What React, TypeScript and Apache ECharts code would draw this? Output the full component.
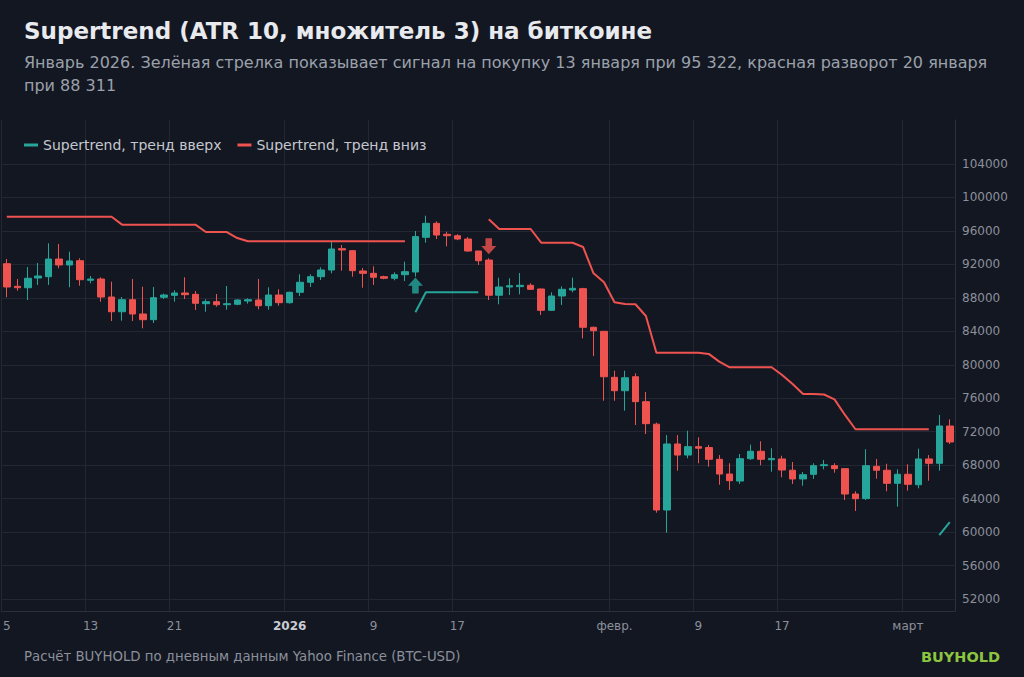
import { useRef, useEffect } from 'react';
import * as echarts from 'echarts';

const DATES = [
  '2025-12-05', '2025-12-06', '2025-12-07', '2025-12-08', '2025-12-09', '2025-12-10', '2025-12-11', '2025-12-12',
  '2025-12-13', '2025-12-14', '2025-12-15', '2025-12-16', '2025-12-17', '2025-12-18', '2025-12-19', '2025-12-20',
  '2025-12-21', '2025-12-22', '2025-12-23', '2025-12-24', '2025-12-25', '2025-12-26', '2025-12-27', '2025-12-28',
  '2025-12-29', '2025-12-30', '2025-12-31', '2026-01-01', '2026-01-02', '2026-01-03', '2026-01-04', '2026-01-05',
  '2026-01-06', '2026-01-07', '2026-01-08', '2026-01-09', '2026-01-10', '2026-01-11', '2026-01-12', '2026-01-13',
  '2026-01-14', '2026-01-15', '2026-01-16', '2026-01-17', '2026-01-18', '2026-01-19', '2026-01-20', '2026-01-21',
  '2026-01-22', '2026-01-23', '2026-01-24', '2026-01-25', '2026-01-26', '2026-01-27', '2026-01-28', '2026-01-29',
  '2026-01-30', '2026-01-31', '2026-02-01', '2026-02-02', '2026-02-03', '2026-02-04', '2026-02-05', '2026-02-06',
  '2026-02-07', '2026-02-08', '2026-02-09', '2026-02-10', '2026-02-11', '2026-02-12', '2026-02-13', '2026-02-14',
  '2026-02-15', '2026-02-16', '2026-02-17', '2026-02-18', '2026-02-19', '2026-02-20', '2026-02-21', '2026-02-22',
  '2026-02-23', '2026-02-24', '2026-02-25', '2026-02-26', '2026-02-27', '2026-02-28', '2026-03-01', '2026-03-02',
  '2026-03-03', '2026-03-04', '2026-03-05',
];

const OPEN = [
  92080, 89380, 89210, 90370, 90530, 92640, 91930, 92440, 90100, 90250, 88100, 86340, 87780, 86070, 85390, 88070,
  88300, 88580, 88420, 87300, 87540, 87180, 87230, 87620, 87740, 87060, 88340, 87420, 88660, 89860, 90530, 91330,
  93880, 93640, 91210, 90930, 90530, 90340, 90770, 91090, 95240, 96910, 95600, 95430, 95030, 93600, 92520, 88311,
  89300, 89340, 89500, 89060, 86510, 88220, 88940, 89100, 84480, 84000, 78500, 76900, 78570, 75590, 72900, 62640,
  70530, 69210, 70210, 70100, 68700, 66940, 66100, 68770, 69660, 68650, 68740, 67400, 66350, 66900, 67940, 67940,
  67580, 64550, 64000, 67860, 67390, 65830, 66910, 65660, 68740, 68220, 72680,
];
const HIGH = [
  92640, 90250, 91690, 92170, 94520, 94440, 93520, 92730, 90610, 90460, 89930, 88100, 90250, 89330, 89300, 88500,
  88900, 90460, 88820, 87830, 88460, 89420, 87830, 87950, 90250, 89260, 89020, 88740, 90820, 90820, 91650, 94710,
  94320, 93700, 91570, 91770, 90650, 91050, 92320, 95990, 97820, 97150, 95910, 95600, 95270, 93600, 92730, 90410,
  90340, 90970, 89740, 89100, 88660, 89380, 90410, 89200, 84550, 84000, 79290, 79290, 78980, 76750, 73080, 71600,
  71600, 72120, 71330, 70410, 69210, 68220, 69330, 70450, 70850, 70020, 69130, 68380, 67180, 68220, 68620, 68220,
  67600, 64880, 69900, 68740, 68170, 67500, 68100, 69970, 69210, 74000, 73480,
];
const LOW = [
  88070, 88850, 87740, 89540, 89540, 91530, 89260, 89450, 89740, 87540, 85230, 85270, 85230, 84360, 84990, 87860,
  87540, 87860, 86550, 86340, 86940, 86580, 87110, 87300, 86630, 86580, 87060, 87300, 88220, 89300, 90130, 90930,
  91250, 90530, 89210, 89540, 90220, 90100, 90010, 90530, 94590, 95030, 94160, 94900, 93520, 91930, 87740, 87230,
  88340, 88420, 88940, 85950, 86430, 87150, 88660, 83160, 81050, 75700, 75700, 74510, 72800, 71720, 62320, 59930,
  67340, 68820, 68220, 67820, 65660, 65030, 65750, 68620, 67980, 67220, 66550, 65750, 65540, 66350, 67500, 67100,
  63830, 62520, 63830, 66380, 64880, 63030, 64950, 65230, 66140, 67340, 70530,
];
const CLOSE = [
  89300, 89210, 90340, 90610, 92640, 91930, 92410, 90170, 90250, 88100, 86340, 87780, 86070, 85390, 88020, 88340,
  88580, 88380, 87350, 87540, 87180, 87300, 87740, 87780, 87060, 88340, 87420, 88660, 89860, 90530, 91330, 93840,
  93720, 91250, 90930, 90460, 90340, 90770, 91130, 95322, 96910, 95510, 95430, 95030, 93600, 92440, 88311, 89300,
  89450, 89500, 89020, 86510, 88220, 89020, 89140, 84480, 84070, 78570, 76900, 78450, 75590, 72960, 62640, 70530,
  69210, 70210, 70030, 68700, 66940, 66140, 68770, 69660, 68700, 68800, 67420, 66350, 66860, 67940, 68050, 67580,
  64550, 63990, 67940, 67390, 65830, 66910, 65710, 68740, 68220, 72680, 70770,
];

const ST_UP = [
  null, null, null, null, null, null, null, null, null, null, null, null, null, null, null, null,
  null, null, null, null, null, null, null, null, null, null, null, null, null, null, null, null,
  null, null, null, null, null, null, null, 86270, 88660, 88660, 88660, 88660, 88660, 88660, null, null,
  null, null, null, null, null, null, null, null, null, null, null, null, null, null, null, null,
  null, null, null, null, null, null, null, null, null, null, null, null, null, null, null, null,
  null, null, null, null, null, null, null, null, null, 59650, 61200,
];
const ST_DOWN = [
  97700, 97700, 97700, 97700, 97700, 97700, 97700, 97700, 97700, 97700, 97700, 96750, 96750, 96750, 96750, 96750,
  96750, 96750, 96750, 95870, 95870, 95870, 95150, 94760, 94760, 94760, 94760, 94760, 94760, 94760, 94760, 94760,
  94760, 94760, 94760, 94760, 94760, 94760, 94760, null, null, null, null, null, null, null, 97390, 96230,
  96230, 96230, 96230, 94590, 94590, 94590, 94590, 94080, 90930, 89860, 87470, 87260, 87230, 85830, 81440, 81440,
  81440, 81440, 81440, 81300, 80370, 79700, 79700, 79700, 79700, 79700, 78780, 77700, 76500, 76500, 76450, 75870,
  74000, 72290, 72290, 72290, 72290, 72290, 72290, 72290, 72290, null, null,
];

// buy / sell arrows
const BUY_SIGNAL = ['2026-01-13', 89480];
const SELL_SIGNAL = ['2026-01-20', 94160];

const TICK_DATES = ['2025-12-05', '2025-12-13', '2025-12-21', '2026-01-01', '2026-01-09', '2026-01-17', '2026-02-01', '2026-02-09', '2026-02-17', '2026-03-01'];
const TICK_LABELS = ['5', '13', '21', '2026', '9', '17', 'февр.', '9', '17', 'март'];
const Y_TICKS = [52000, 56000, 60000, 64000, 68000, 72000, 76000, 80000, 84000, 88000, 92000, 96000, 100000, 104000];

const UP = '#26a69a';
const DOWN = '#ef5350';
const FONT = 'DejaVu Sans';
const UP_ARROW = 'path://M7.5,0 L15,8.3 L10.8,8.3 L10.8,16 L4.2,16 L4.2,8.3 L0,8.3 Z';
const DOWN_ARROW = 'path://M4.2,0 L10.8,0 L10.8,7.7 L15,7.7 L7.5,16 L0,7.7 L4.2,7.7 Z';

function buildOption() {
  const candles = DATES.map((_, i) => [OPEN[i], CLOSE[i], LOW[i], HIGH[i]]);
  return {
    animation: false,
    backgroundColor: '#131722',
    textStyle: { fontFamily: FONT },
    title: [
      { text: 'Supertrend (ATR 10, множитель 3) на биткоине', left: 24, top: 19, padding: 0, textStyle: { fontFamily: FONT, fontSize: 23, fontWeight: 'bold', color: '#e8eaee' } },
      {
        text: 'Январь 2026. Зелёная стрелка показывает сигнал на покупку 13 января при 95 322, красная разворот 20 января\nпри 88 311',
        left: 24, top: 51, padding: 0, textStyle: { fontFamily: FONT, fontSize: 16, fontWeight: 'normal', color: '#9ba1ab', lineHeight: 23 },
      },
      { text: 'Расчёт BUYHOLD по дневным данным Yahoo Finance (BTC-USD)', left: 24, top: 650, padding: 0, textStyle: { fontFamily: FONT, fontSize: 13.3, fontWeight: 'normal', color: '#8b909a' } },
      { text: 'BUYHOLD', right: 24, top: 649, padding: 0, textStyle: { fontFamily: FONT, fontSize: 14.5, fontWeight: 'bold', color: '#8cc63f' } },
    ],
    legend: {
      data: ['Supertrend, тренд вверх', 'Supertrend, тренд вниз'],
      left: 24, top: 138, padding: 0, icon: 'rect', itemWidth: 14, itemHeight: 3, itemGap: 16,
      textStyle: { fontFamily: FONT, fontSize: 14, color: '#c5c8ce' },
    },
    grid: { left: 0, right: 69, top: 120, bottom: 66 },
    xAxis: {
      type: 'category',
      data: DATES,
      boundaryGap: true,
      axisLine: { show: true, lineStyle: { color: '#2b303c' } },
      axisTick: { show: false },
      axisLabel: {
        interval: (_: number, v: string) => TICK_DATES.includes(v),
        formatter: (v: string) => {
          const lbl = TICK_LABELS[TICK_DATES.indexOf(v)];
          return lbl === '2026' ? '{b|2026}' : lbl;
        },
        color: '#8b909a', fontSize: 12, fontFamily: FONT, margin: 9,
        rich: { b: { fontWeight: 'bold', color: '#c9ccd3', fontSize: 12, fontFamily: FONT } },
      },
      splitLine: { show: true, interval: (_: number, v: string) => TICK_DATES.includes(v), lineStyle: { color: '#222733' } },
    },
    yAxis: {
      type: 'value',
      position: 'right',
      min: 50566,
      max: 109260,
      axisLine: { show: true, lineStyle: { color: '#2b303c' } },
      axisTick: { show: false, customValues: Y_TICKS },
      axisLabel: { customValues: Y_TICKS, formatter: (v: number) => String(v), color: '#8b909a', fontSize: 12, fontFamily: FONT, margin: 7 },
      splitLine: { show: true, lineStyle: { color: '#222733' } },
    },
    series: [
      {
        type: 'candlestick', data: candles, barWidth: 7,
        itemStyle: { color: UP, color0: DOWN, borderColor: UP, borderColor0: DOWN, borderWidth: 1 },
      },
      { name: 'Supertrend, тренд вверх', type: 'line', data: ST_UP, symbol: 'none', connectNulls: false, lineStyle: { color: UP, width: 2 }, itemStyle: { color: UP } },
      { name: 'Supertrend, тренд вниз', type: 'line', data: ST_DOWN, symbol: 'none', connectNulls: false, lineStyle: { color: DOWN, width: 2 }, itemStyle: { color: DOWN } },
      { type: 'scatter', data: [BUY_SIGNAL], symbol: UP_ARROW, symbolSize: [15, 16], itemStyle: { color: UP }, z: 5 },
      { type: 'scatter', data: [SELL_SIGNAL], symbol: DOWN_ARROW, symbolSize: [15, 16], itemStyle: { color: DOWN }, z: 5 },
    ],
  };
}

export default function App() {
  const ref = useRef<HTMLDivElement>(null);

  useEffect(() => {
    document.body.style.margin = '0';
    if (!ref.current) return;
    const chart = echarts.init(ref.current, undefined, { renderer: 'svg' });
    chart.setOption(buildOption() as any);
    return () => chart.dispose();
  }, []);

  return <div ref={ref} style={{ position: 'absolute', left: 0, top: 0, width: 1024, height: 677 }} />;
}
